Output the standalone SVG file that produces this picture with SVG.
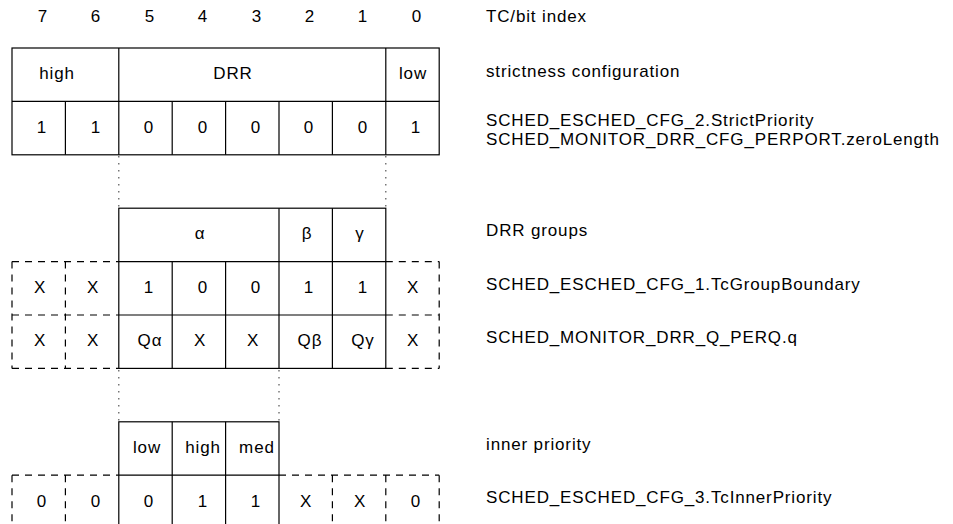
<svg xmlns="http://www.w3.org/2000/svg" width="953" height="524" viewBox="0 0 953 524">
<style>
text{font-family:"Liberation Sans",Arial,sans-serif;font-size:17px;letter-spacing:0.9px;fill:#000}
.c{text-anchor:middle}
.lbl{letter-spacing:0.85px}
.solid{fill:none;stroke:#000;stroke-width:1.2}
.dash{fill:none;stroke:#000;stroke-width:1.2;stroke-dasharray:7 6}
.dot{fill:none;stroke:#555;stroke-width:1.2;stroke-dasharray:1.5 5.5}
</style>
<rect width="953" height="524" fill="#fff"/>

<g id="index-row">
<text class="c" x="43" y="22">7</text>
<text class="c" x="96" y="22">6</text>
<text class="c" x="150" y="22">5</text>
<text class="c" x="203" y="22">4</text>
<text class="c" x="257" y="22">3</text>
<text class="c" x="310" y="22">2</text>
<text class="c" x="363" y="22">1</text>
<text class="c" x="417" y="22">0</text>
</g>

<g id="strictness-table">
<rect class="solid" x="12" y="48" width="427.2" height="106.8"/>
<path class="solid" d="M12 101.4H439.2M118.8 48V154.8M385.8 48V154.8M65.4 101.4V154.8M172.2 101.4V154.8M225.6 101.4V154.8M279 101.4V154.8M332.4 101.4V154.8"/>
<text class="c" x="57" y="79">high</text>
<text class="c" x="233" y="79">DRR</text>
<text class="c" x="413" y="79">low</text>
<text class="c" x="42" y="133">1</text>
<text class="c" x="96" y="133">1</text>
<text class="c" x="149" y="133">0</text>
<text class="c" x="203" y="133">0</text>
<text class="c" x="256" y="133">0</text>
<text class="c" x="309" y="133">0</text>
<text class="c" x="363" y="133">0</text>
<text class="c" x="416" y="133">1</text>
</g>

<g id="drr-groups-table">
<rect class="solid" x="118.8" y="208.2" width="267" height="160.2"/>
<path class="solid" d="M118.8 261.6H385.8M118.8 315H385.8M279 208.2V368.4M332.4 208.2V368.4M172.2 261.6V368.4M225.6 261.6V368.4"/>
<path class="dash" d="M12 261.6H118.8M12 315H118.8M12 368.4H118.8M12 261.6V368.4M65.4 261.6V368.4M385.8 261.6H439.2M385.8 315H439.2M385.8 368.4H439.2M439.2 261.6V368.4"/>
<text class="c" x="200" y="239">α</text>
<text class="c" x="307" y="239">β</text>
<text class="c" x="360" y="239">γ</text>
<text class="c" x="40" y="293">X</text>
<text class="c" x="93" y="293">X</text>
<text class="c" x="149" y="293">1</text>
<text class="c" x="203" y="293">0</text>
<text class="c" x="256" y="293">0</text>
<text class="c" x="309" y="293">1</text>
<text class="c" x="363" y="293">1</text>
<text class="c" x="413" y="293">X</text>
<text class="c" x="40" y="346">X</text>
<text class="c" x="93" y="346">X</text>
<text class="c" x="150" y="346">Qα</text>
<text class="c" x="200" y="346">X</text>
<text class="c" x="253" y="346">X</text>
<text class="c" x="310" y="346">Qβ</text>
<text class="c" x="363" y="346">Qγ</text>
<text class="c" x="413" y="346">X</text>
</g>

<g id="inner-priority-table">
<rect class="solid" x="118.8" y="421.8" width="160.2" height="106.8"/>
<path class="solid" d="M118.8 475.2H279M172.2 421.8V528.6M225.6 421.8V528.6"/>
<path class="dash" d="M12 475.2H118.8M12 475.2V528.6M65.4 475.2V528.6M279 475.2H439.2M332.4 475.2V528.6M385.8 475.2V528.6M439.2 475.2V528.6"/>
<text class="c" x="147" y="453">low</text>
<text class="c" x="203" y="453">high</text>
<text class="c" x="257" y="453">med</text>
<text class="c" x="42" y="507">0</text>
<text class="c" x="96" y="507">0</text>
<text class="c" x="149" y="507">0</text>
<text class="c" x="203" y="507">1</text>
<text class="c" x="256" y="507">1</text>
<text class="c" x="306" y="507">X</text>
<text class="c" x="360" y="507">X</text>
<text class="c" x="416" y="507">0</text>
</g>

<g id="connectors">
<path class="dot" d="M118.8 156V208M385.8 156V208M118.8 370V421.5M279 370V421.5"/>
</g>

<g id="labels">
<text class="lbl" x="486" y="22">TC/bit index</text>
<text class="lbl" x="486" y="77">strictness configuration</text>
<text class="lbl" x="486" y="126">SCHED_ESCHED_CFG_2.StrictPriority</text>
<text class="lbl" x="486" y="145">SCHED_MONITOR_DRR_CFG_PERPORT.zeroLength</text>
<text class="lbl" x="486" y="236">DRR groups</text>
<text class="lbl" x="486" y="290">SCHED_ESCHED_CFG_1.TcGroupBoundary</text>
<text class="lbl" x="486" y="343">SCHED_MONITOR_DRR_Q_PERQ.q</text>
<text class="lbl" x="486" y="450">inner priority</text>
<text class="lbl" x="486" y="503">SCHED_ESCHED_CFG_3.TcInnerPriority</text>
</g>
</svg>
